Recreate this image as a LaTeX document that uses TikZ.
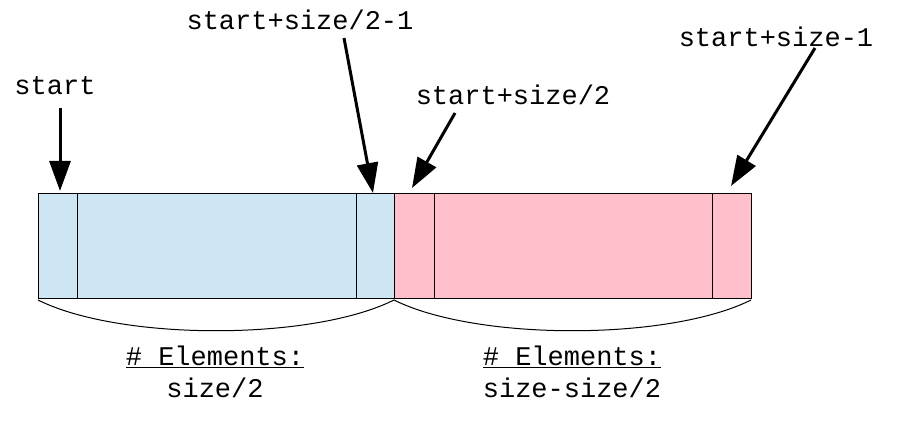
\documentclass[tikz,border=0pt]{standalone}
\usepackage{fontspec}
\setmonofont{Liberation Mono}
\usetikzlibrary{arrows.meta}
\definecolor{cblue}{HTML}{CFE6F4}
\definecolor{cpink}{HTML}{FFC0CB}
\begin{document}
\begin{tikzpicture}[x=1pt,y=-1pt,
  lbl/.style={font=\fontsize{27}{30}\selectfont\ttfamily, inner sep=0pt, anchor=center},
  cell/.style={draw=black, line width=1pt},
  ptr/.style={line width=3pt, -{Triangle[length=30pt,width=21pt]}},
  brace/.style={line width=1pt}]
\useasboundingbox (0,0) rectangle (905,446);
% cells
\path[cell, fill=cblue] (38,194) rectangle (394,299);
\path[cell, fill=cpink] (394,194) rectangle (751,299);
\draw[cell] (77,194) -- (77,299);
\draw[cell] (356,194) -- (356,299);
\draw[cell] (434,194) -- (434,299);
\draw[cell] (712,194) -- (712,299);
\coordinate (c0) at (60,191);
\coordinate (c1) at (373,193);
\coordinate (c2) at (412,188);
\coordinate (c3) at (731,186);
% labels
\node[lbl] (l0) at (55,86) {start};
\node[lbl] (l1) at (300,20) {start+size/2-1};
\node[lbl] (l2) at (513,95) {start+size/2};
\node[lbl] (l3) at (776,37) {start+size-1};
\coordinate (s0) at (60,108);
\coordinate (s1) at (344,38);
\coordinate (s2) at (455,113);
\coordinate (s3) at (815,48);
\draw[ptr] (s0) -- (c0);
\draw[ptr] (s1) -- (c1);
\draw[ptr] (s2) -- (c2);
\draw[ptr] (s3) -- (c3);
% braces
\coordinate (b0) at (38,300);
\coordinate (b1) at (394,300);
\coordinate (b2) at (751,300);
\draw[brace] (b0) .. controls (120,341) and (312,341) .. (b1);
\draw[brace] (b1) .. controls (476,341) and (669,341) .. (b2);
% counts
\node[lbl] (e1) at (215,357) {\underline{\#~Elements:}};
\node[lbl] (n1) at (215,388) {size/2};
\node[lbl] (e2) at (572,357) {\underline{\#~Elements:}};
\node[lbl] (n2) at (572,388) {size-size/2};
\end{tikzpicture}
\end{document}
